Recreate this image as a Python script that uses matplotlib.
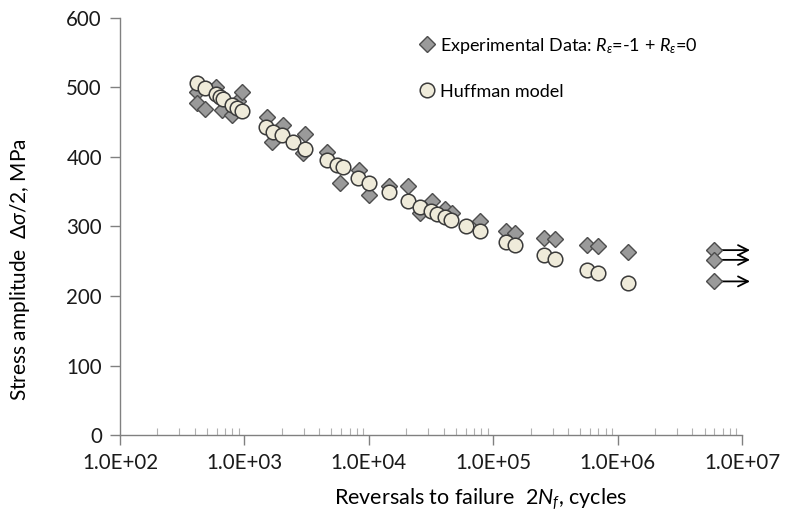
import matplotlib
matplotlib.use("Agg")
import matplotlib.pyplot as plt
from matplotlib.ticker import FixedLocator, LogLocator, NullFormatter

# Experimental data (diamonds)
exp_cycles = [414, 414, 482, 591, 657, 791, 893, 951, 1510, 2032, 1675, 3070, 2973,
              4634, 5864, 8387, 10090, 14620, 20560, 25820, 32070, 41020, 46400,
              78400, 126800, 150600, 256000, 314000, 570500, 699400, 1219000]
exp_stress = [494, 477, 469, 501, 467, 460, 480, 494, 457, 446, 422, 433, 406,
              407, 362, 382, 346, 358, 358, 320, 337, 325, 319,
              308, 294, 291, 283, 282, 273, 272, 264]

# Run-outs (diamonds with arrows)
runout_cycles = [5957000, 5957000, 5957000]
runout_stress = [266, 252, 221]

# Huffman model (circles)
huf_cycles = [414, 482, 591, 637, 676, 791, 867, 951, 1499, 1706, 1995, 2445, 3070,
              4634, 5520, 6170, 8240, 10090, 14620, 20470, 25820, 31900, 35570,
              41020, 45800, 60400, 78400, 126800, 150000, 256000, 314000, 570500,
              699400, 1219000]
huf_stress = [506, 499, 491, 487, 483, 475, 470, 466, 443, 436, 431, 422, 412,
              396, 388, 385, 370, 363, 350, 337, 328, 322, 318,
              313, 309, 301, 293, 278, 273, 259, 253, 237,
              233, 219]

xtick_vals = [1e2, 1e3, 1e4, 1e5, 1e6, 1e7]
xtick_labels = ["1.0E+02", "1.0E+03", "1.0E+04", "1.0E+05", "1.0E+06", "1.0E+07"]
ytick_vals = [0, 100, 200, 300, 400, 500, 600]

plt.rcParams['font.family'] = ['Lato', 'DejaVu Sans']
plt.rcParams['mathtext.fontset'] = 'custom'
plt.rcParams['mathtext.it'] = 'Lato:italic'
plt.rcParams['mathtext.rm'] = 'Lato'

fig = plt.figure(figsize=(7.85, 5.23), dpi=100)
ax = fig.add_axes([120/785, 88/523, 622/785, 417/523])

dia_face = '#9a9a9a'
dia_edge = '#4d4d4d'
circ_face = '#efebda'
circ_edge = '#3a3a3a'

# arrows for run-outs
arrow_end = 1.16e7
for xc, yc in zip(runout_cycles, runout_stress):
    ax.annotate('', xy=(arrow_end, yc), xytext=(xc, yc),
                arrowprops=dict(arrowstyle='->', color='black', lw=1.3,
                                mutation_scale=18, shrinkA=0, shrinkB=0),
                annotation_clip=False, zorder=2)

ax.plot(exp_cycles, exp_stress, linestyle='none', marker='D', markersize=8.5,
        markerfacecolor=dia_face, markeredgecolor=dia_edge, markeredgewidth=1.0,
        zorder=3, label=r'Experimental Data: $R_{\varepsilon}$=-1 + $R_{\varepsilon}$=0')
ax.plot(runout_cycles, runout_stress, linestyle='none', marker='D', markersize=8.5,
        markerfacecolor=dia_face, markeredgecolor=dia_edge, markeredgewidth=1.0,
        zorder=3, clip_on=False)
ax.plot(huf_cycles, huf_stress, linestyle='none', marker='o', markersize=10.5,
        markerfacecolor=circ_face, markeredgecolor=circ_edge, markeredgewidth=1.1,
        zorder=4, label='Huffman model')

ax.set_xscale('log')
ax.set_xlim(1e2, 1e7)
ax.set_ylim(0, 600)

ax.xaxis.set_major_locator(FixedLocator(xtick_vals))
ax.set_xticklabels(xtick_labels)
ax.xaxis.set_minor_locator(LogLocator(base=10, subs=range(2, 10), numticks=20))
ax.xaxis.set_minor_formatter(NullFormatter())
ax.set_yticks(ytick_vals)

for s in ['top', 'right']:
    ax.spines[s].set_visible(False)
for s in ['left', 'bottom']:
    ax.spines[s].set_color('#808080')
    ax.spines[s].set_linewidth(1.0)

ax.tick_params(axis='both', which='major', labelsize=14.8, colors='#808080',
               labelcolor='#1a1a1a', length=7, width=1.0, pad=6)
ax.tick_params(axis='x', which='major', direction='out', length=7)
ax.tick_params(axis='x', which='minor', direction='in', length=5, width=0.8,
               colors='#b0b0b0')
ax.tick_params(axis='y', which='major', direction='out', length=7)

ax.set_xlabel(r'Reversals to failure  $2N_f$, cycles', fontsize=15.5)
ax.set_ylabel(r'Stress amplitude  $\Delta\sigma/2$, MPa', fontsize=15)
ax.xaxis.set_label_coords(0.579, -0.122)
ax.yaxis.set_label_coords(-0.142, 0.396)

leg = ax.legend(loc='upper left', bbox_to_anchor=(0.465, 0.975), frameon=False,
                fontsize=13, handletextpad=0.1, labelspacing=1.55, borderaxespad=0,
                handlelength=1.2)

fig.savefig('out.png', dpi=100)
